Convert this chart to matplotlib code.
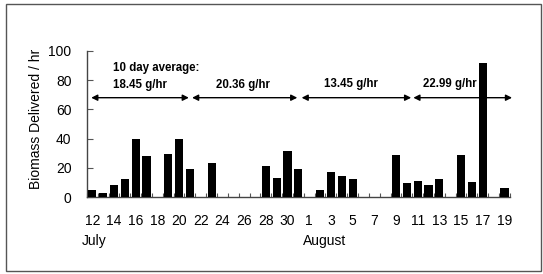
import matplotlib
matplotlib.use("Agg")
import matplotlib.pyplot as plt
from matplotlib.patches import Rectangle

plt.rcParams['font.family'] = ['Liberation Sans', 'DejaVu Sans']

# one bar per day, 12 July .. 19 August
days = list(range(12, 32)) + list(range(1, 20))
biomass = [5, 2.5, 8, 12, 40, 28, 0, 29.5, 39.5, 19,
           0, 23, 0, 0, 0, 0, 21, 13, 31.5, 19,
           0, 4.5, 17, 14.5, 12.5, 0, 0, 0, 29, 9.5,
           11, 8, 12.5, 0, 29, 10, 91.5, 0, 6]
tick_days = [12, 14, 16, 18, 20, 22, 24, 26, 28, 30, 1, 3, 5, 7, 9, 11, 13, 15, 17, 19]
tick_idx = [0, 2, 4, 6, 8, 10, 12, 14, 16, 18, 20, 22, 24, 26, 28, 30, 32, 34, 36, 38]

averages = ["18.45 g/hr", "20.36 g/hr", "13.45 g/hr", "22.99 g/hr"]
arrow_spans = [(-0.1, 8.9), (9.2, 18.9), (19.3, 29.4), (29.6, 38.7)]
label_x = [1.9, 11.4, 21.4, 30.5]
label_y = [76.5, 76.5, 77.5, 77.5]

fig = plt.figure(figsize=(5.43, 2.74), dpi=100)
ax = fig.add_axes([0.160, 0.281, 0.779, 0.533])

x = list(range(len(days)))
ax.bar(x, biomass, width=0.75, color='black', zorder=3)

ax.set_xlim(-0.5, 38.5)
ax.set_ylim(0, 100)
ax.set_yticks([0, 20, 40, 60, 80, 100])
ax.set_xticks(tick_idx)
ax.set_xticklabels([str(d) for d in tick_days])
ax.set_xticks([i + 0.5 for i in range(-1, len(days))], minor=True)

ax.tick_params(axis='x', which='major', length=0, pad=12.5, labelsize=10)
ax.tick_params(axis='x', which='minor', direction='in', length=3, width=0.8, color='#555555')
ax.tick_params(axis='y', direction='in', length=4, width=0.8, color='#555555', pad=11, labelsize=10)

for s in ['top', 'right']:
    ax.spines[s].set_visible(False)
for s in ['left', 'bottom']:
    ax.spines[s].set_color('#444444')
    ax.spines[s].set_linewidth(1)

ax.set_ylabel("Biomass Delivered / hr", fontsize=10)
ax.yaxis.set_label_coords(-0.104, 0.534)

# ten-day average arrows
for (a, b) in arrow_spans:
    ax.annotate("", xy=(a, 68), xytext=(b, 68),
                arrowprops=dict(arrowstyle='<|-|>', color='black', lw=1, mutation_scale=9,
                                shrinkA=0, shrinkB=0), zorder=2)
ax.text(1.9, 88.5, "10 day average:", fontsize=8.3, fontweight='bold', va='center', zorder=1)
for t, tx, ty in zip(averages, label_x, label_y):
    ax.text(tx, ty, t, fontsize=8.3, fontweight='bold', va='center', zorder=1)

tr = ax.get_xaxis_transform()
ax.text(-0.95, -0.30, "July", transform=tr, fontsize=10, va='center')
ax.text(19.45, -0.30, "August", transform=tr, fontsize=10, va='center')

fig.patches.append(Rectangle((6 / 543, 1 - 271 / 274), 535 / 543, 267 / 274,
                             transform=fig.transFigure, fill=False,
                             edgecolor='#555555', linewidth=1))

fig.savefig("out.png", dpi=100)
